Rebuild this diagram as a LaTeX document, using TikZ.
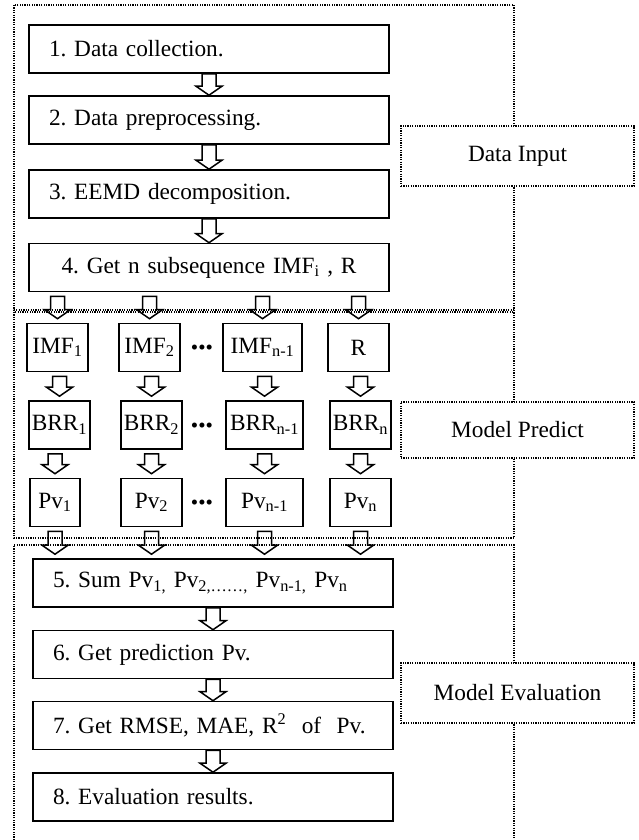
\documentclass[tikz,border=0pt]{standalone}
\usepackage{fontspec}
\setmainfont{Liberation Serif}
\usepackage{tikz}
\usetikzlibrary{calc}
\frenchspacing

\begin{document}
\begin{tikzpicture}[x=1pt, y=-1pt,
	every node/.style={font=\fontsize{23.3}{28}\selectfont},
	stepbox/.style={draw, line width=1.6pt, minimum width=360pt, minimum height=48pt, text width=320pt, align=left, inner xsep=20pt},
	colbox/.style={draw, line width=1.6pt, minimum width=61pt, minimum height=48pt, inner xsep=1pt},
	region/.style={line width=1.3pt, dash pattern=on 1.2pt off 1.2pt},
	tag/.style={draw, region, fill=white, minimum width=233pt, minimum height=60pt},
	blk/.style={line width=1.5pt, to path={let \p1=(\tikztostart), \p2=(\tikztotarget) in
		(\x2-7pt,\y1-#1) -- (\x2-7pt,\y2+#1+9pt) -- (\x2-13pt,\y2+#1+9pt) -- (\x2,\y2+#1)
		-- (\x2+13pt,\y2+#1+9pt) -- (\x2+7pt,\y2+#1+9pt) -- (\x2+7pt,\y1-#1) -- cycle}},
	blk/.default=0pt]
	\useasboundingbox (0,0) rectangle (639,840);

	%Regions
	\draw[region] (14,5) rectangle (514,310);
	\draw[region] (14,312) rectangle (514,538);
	\draw[region] (14,840) -- (14,545) -- (514,545) -- (514,840);
	\node[tag] (in) at (517.5,156) {Data Input};
	\node[tag, minimum height=56pt] (pr) at (517.5,430) {Model Predict};
	\node[tag] (ev) at (517.5,693) {Model Evaluation};

	%Data input
	\node[stepbox] (1) at (209,49) {1. Data collection.};
	\node[stepbox] (2) at (209,120) {2. Data preprocessing.};
	\node[stepbox] (3) at (209,194) {3. EEMD decomposition.};
	\node[stepbox, align=center] (4) at (209,267.5) {4. Get n subsequence IMF\textsubscript{i} , R};
	\draw[blk] (1.south) to (2.north);
	\draw[blk] (2.south) to (3.north);
	\draw[blk] (3.south) to (4.north);

	%Model predict
	\node[colbox] (i1) at (57.5,347.5) {IMF\textsubscript{1}};
	\node[colbox] (i2) at (149.5,347.5) {IMF\textsubscript{2}};
	\node[colbox, minimum width=79pt] (i3) at (262.5,347.5) {IMF\textsubscript{n-1}};
	\node[colbox] (i4) at (358.5,347.5) {R};
	\node[colbox] (b1) at (59.5,425) {BRR\textsubscript{1}};
	\node[colbox] (b2) at (151.5,425) {BRR\textsubscript{2}};
	\node[colbox, minimum width=77pt] (b3) at (264.5,425) {BRR\textsubscript{n-1}};
	\node[colbox] (b4) at (360.5,425) {BRR\textsubscript{n}};
	\node[colbox, minimum width=50pt] (p1) at (55,502.5) {Pv\textsubscript{1}};
	\node[colbox] (p2) at (151.5,502.5) {Pv\textsubscript{2}};
	\node[colbox, minimum width=77pt] (p3) at (264.5,502.5) {Pv\textsubscript{n-1}};
	\node[colbox] (p4) at (360.5,502.5) {Pv\textsubscript{n}};
	\node[font=\fontsize{21}{24}\selectfont] (d1) at (202,350) {•••};
	\node[font=\fontsize{21}{24}\selectfont] (d2) at (202,428) {•••};
	\node[font=\fontsize{21}{24}\selectfont] (d3) at (202,505) {•••};
	\draw[blk=4pt] (4.south -| i1) to (i1.north);
	\draw[blk=4pt] (4.south -| i2) to (i2.north);
	\draw[blk=4pt] (4.south -| i3) to (i3.north);
	\draw[blk=4pt] (4.south -| i4) to (i4.north);
	\draw[blk=4pt] (i1.south) to (b1.north);
	\draw[blk=4pt] (i2.south) to (b2.north);
	\draw[blk=4pt] (i3.south) to (b3.north);
	\draw[blk=4pt] (i4.south) to (b4.north);
	\draw[blk=4pt] (b1.south) to (p1.north);
	\draw[blk=4pt] (b2.south) to (p2.north);
	\draw[blk=4pt] (b3.south) to (p3.north);
	\draw[blk=4pt] (b4.south) to (p4.north);

	%Model evaluation
	\node[stepbox] (5) at (213,583) {5. Sum Pv\textsubscript{1,} Pv\textsubscript{2,……,} Pv\textsubscript{n-1,} Pv\textsubscript{n}};
	\node[stepbox] (6) at (213,654.5) {6. Get prediction Pv.};
	\node[stepbox] (7) at (213,725.5) {\mbox{7. Get RMSE, MAE, R\textsuperscript{2} \ of \ Pv.}};
	\node[stepbox] (8) at (213,797) {8. Evaluation results.};
	\draw[blk=4pt] (p1.south) to (5.north -| p1);
	\draw[blk=4pt] (p2.south) to (5.north -| p2);
	\draw[blk=4pt] (p3.south) to (5.north -| p3);
	\draw[blk=4pt] (p4.south) to (5.north -| p4);
	\draw[blk] (5.south) to (6.north);
	\draw[blk] (6.south) to (7.north);
	\draw[blk] (7.south) to (8.north);
\end{tikzpicture}
\end{document}
